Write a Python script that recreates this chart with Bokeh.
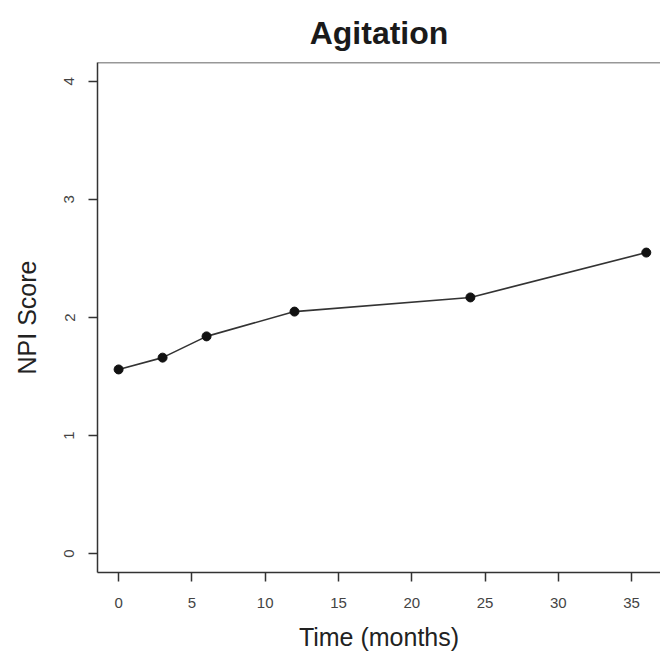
from bokeh.plotting import figure
from bokeh.models import Range1d, FixedTicker, Span
from bokeh.embed import file_html
from bokeh.resources import INLINE

time_months = [0, 3, 6, 12, 24, 36]
npi_score = [1.56, 1.66, 1.84, 2.05, 2.17, 2.55]
x_ticks = [0, 5, 10, 15, 20, 25, 30, 35]
y_ticks = [0, 1, 2, 3, 4]

FONT = "Liberation Sans"
Y1 = 4.16

p = figure(width=660, height=657, output_backend="svg", toolbar_location=None,
           x_range=Range1d(-1.44, 36.97), y_range=Range1d(-0.16, Y1),
           title="Agitation",
           min_border_left=97, min_border_right=0, min_border_top=62, min_border_bottom=85)
p.background_fill_color = "white"
p.border_fill_color = "white"
p.outline_line_color = None
p.xgrid.visible = False
p.ygrid.visible = False

p.title.align = "center"
p.title.text_font = FONT
p.title.text_font_size = "32px"
p.title.text_font_style = "bold"
p.title.text_color = "#1a1a1a"
p.title.standoff = 23

for ax in (p.xaxis[0], p.yaxis[0]):
    ax.axis_line_color = "#333333"
    ax.axis_line_width = 1.5
    ax.major_tick_line_color = "#333333"
    ax.major_tick_line_width = 1.5
    ax.major_tick_out = 9
    ax.major_tick_in = 0
    ax.minor_tick_line_color = None
    ax.major_label_text_font = FONT
    ax.major_label_text_font_size = "15px"
    ax.major_label_text_color = "#444444"
    ax.axis_label_text_font = FONT
    ax.axis_label_text_font_size = "25px"
    ax.axis_label_text_font_style = "normal"
    ax.axis_label_text_color = "#222222"

p.xaxis.major_label_standoff = 16
p.xaxis.axis_label_standoff = 12
p.yaxis.major_label_standoff = 14
p.yaxis.axis_label_standoff = 21

p.xaxis.ticker = FixedTicker(ticks=x_ticks)
p.yaxis.ticker = FixedTicker(ticks=y_ticks)
p.yaxis.major_label_orientation = "vertical"
p.xaxis.axis_label = "Time (months)"
p.yaxis.axis_label = "NPI Score"

top = Span(location=Y1, dimension="width", line_color="#333333", line_width=1.5)
p.add_layout(top)

p.line(time_months, npi_score, line_color="#333333", line_width=1.6)
p.scatter(time_months, npi_score, size=9, fill_color="#111111", line_color="#111111")

open("out.html", "w").write(file_html(p, INLINE))
